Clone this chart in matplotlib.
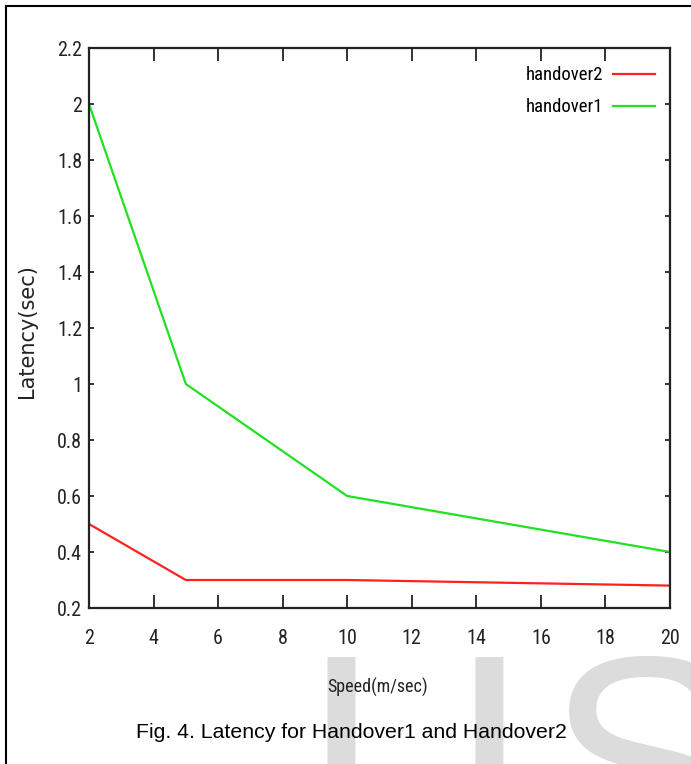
import matplotlib
matplotlib.use("Agg")
import matplotlib.pyplot as plt
from matplotlib import font_manager
from matplotlib.lines import Line2D

# data
speed = [2, 5, 10, 20]
handover1 = [2.0, 1.0, 0.6, 0.4]
handover2 = [0.5, 0.3, 0.3, 0.28]
xticks = [2, 4, 6, 8, 10, 12, 14, 16, 18, 20]
yticks = [0.2, 0.4, 0.6, 0.8, 1.0, 1.2, 1.4, 1.6, 1.8, 2.0, 2.2]
ytick_labels = ["0.2", "0.4", "0.6", "0.8", "1", "1.2", "1.4", "1.6", "1.8", "2", "2.2"]

# look for a narrow face for the gnuplot-like labels
narrow = {"family": "DejaVu Sans", "stretch": "normal"}
for f in font_manager.fontManager.ttflist:
    if f.name in ("Liberation Sans Narrow", "Roboto Condensed", "Open Sans Condensed"):
        narrow = {"family": f.name, "stretch": "normal"}
        break
    if f.name == "DejaVu Sans" and f.stretch in ("condensed", "semi-condensed", 400):
        narrow = {"family": "DejaVu Sans", "stretch": "condensed"}
tick_font = {"family": narrow["family"], "stretch": narrow["stretch"], "size": 14.5}

fig = plt.figure(figsize=(6.91, 7.64), dpi=100)
ax = fig.add_axes([89 / 691, 1 - 608 / 764, 581 / 691, 560 / 764])
ax.set_zorder(1)

ax.plot(speed, handover2, color="#ff2020", lw=1.6, label="handover2")
ax.plot(speed, handover1, color="#22e022", lw=1.6, label="handover1")

ax.set_xlim(2, 20)
ax.set_ylim(0.2, 2.2)
ax.set_xticks(xticks)
ax.set_yticks(yticks)
ax.set_xticklabels([str(t) for t in xticks], fontdict=tick_font)
ax.set_yticklabels(ytick_labels, fontdict=tick_font)
ax.tick_params(axis="x", direction="in", length=9.5, width=1.3, top=True,
               pad=15, colors="#222222")
ax.tick_params(axis="y", direction="in", length=3.8, width=1.3, right=True,
               pad=5, colors="#222222")
for s in ax.spines.values():
    s.set_linewidth(1.6)
    s.set_color("#222222")

ax.set_xlabel("Speed(m/sec)", fontfamily=narrow["family"], fontstretch=narrow["stretch"],
              fontsize=13, color="#222222")
ax.xaxis.set_label_coords(0.497, -0.124)
ax.set_ylabel("Latency(sec)", fontfamily="DejaVu Sans", fontsize=15, color="#222222")
ax.yaxis.set_label_coords(-0.0895, 0.495)

leg = ax.legend(loc="upper right", bbox_to_anchor=(1.0, 0.994), frameon=False,
                markerfirst=False,
                prop={"family": narrow["family"], "stretch": narrow["stretch"], "size": 13.5},
                handlelength=2.25, handletextpad=0.5, borderaxespad=0.4,
                labelspacing=0.75)

# caption and frame of the page
fig.text(0.508, 1 - 733 / 764, "Fig. 4. Latency for Handover1 and Handover2",
         fontfamily="Liberation Sans", fontsize=15.3, ha="center", va="center", zorder=5)
fig.add_artist(Line2D([6 / 691, 6 / 691], [0, 1 - 6 / 764], color="black", lw=1.5,
                      transform=fig.transFigure))
fig.add_artist(Line2D([6 / 691, 1], [1 - 6 / 764, 1 - 6 / 764], color="black", lw=1.5,
                      transform=fig.transFigure))

# watermark letters behind the labels and caption
wm = {"fontfamily": "Liberation Sans", "fontsize": 215, "color": "#dcdcdc",
      "va": "top", "ha": "center", "zorder": -1}
fig.text(341 / 691, 1 - 646 / 764, "I", **wm)
fig.text(489 / 691, 1 - 646 / 764, "I", **wm)
fig.text(645 / 691, 1 - 648 / 764, "S", **wm)

fig.savefig("out.png", dpi=100)
